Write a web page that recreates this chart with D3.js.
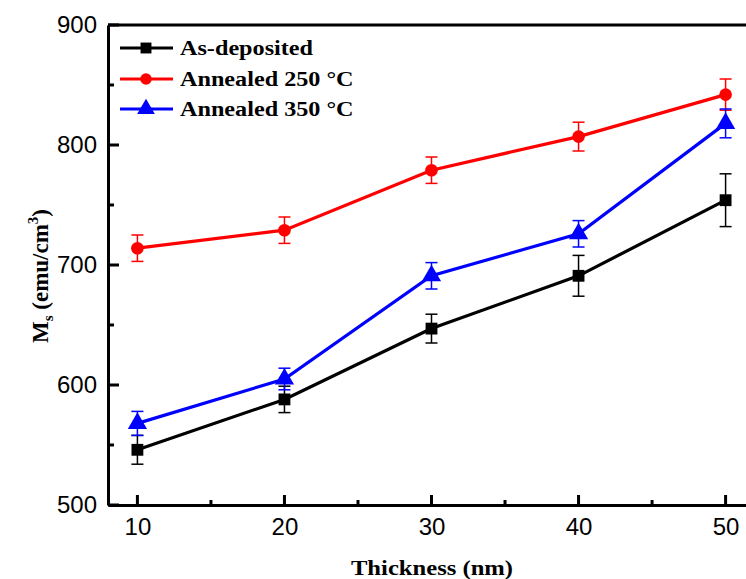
<!DOCTYPE html>
<html><head><meta charset="utf-8">
<script src="https://cdn.jsdelivr.net/npm/d3@7"></script>
<style>body{margin:0;background:#fff}svg{display:block}</style>
</head><body>
<svg id="c" width="746" height="579"></svg>
<script>
const thickness = [10, 20, 30, 40, 50];
const seriesNames = ["As-deposited", "Annealed 250 °C", "Annealed 350 °C"];
const asDeposited = [546, 588, 647, 691, 754];
const asDepositedErr = [12, 11, 12, 17, 22];
const annealed250 = [714, 729, 779, 807, 842];
const annealed250Err = [11, 11, 11, 12, 13];
const annealed350 = [568, 605, 691, 726, 818];
const annealed350Err = [10, 9, 11, 11, 12];
const xTicks = [10, 20, 30, 40, 50];
const yTicks = [500, 600, 700, 800, 900];

const colors = ["#000000", "#ff0000", "#0000ff"];
const markers = [d3.symbolSquare, d3.symbolCircle, d3.symbolTriangle];
const markerSizes = [140, 125, 160];
const serif = "Liberation Serif, Times New Roman, serif";
const sans = "Liberation Sans, Arial, sans-serif";

const svg = d3.select("#c");
const x = d3.scaleLinear().domain([8, 52]).range([108, 755]);
const y = d3.scaleLinear().domain([500, 900]).range([505, 25]);

const series = [
  {name: seriesNames[0], v: asDeposited, e: asDepositedErr},
  {name: seriesNames[1], v: annealed250, e: annealed250Err},
  {name: seriesNames[2], v: annealed350, e: annealed350Err}
];

// frame top
svg.append("line").attr("x1", 108).attr("x2", 755).attr("y1", 25).attr("y2", 25)
  .attr("stroke", "#000").attr("stroke-width", 3);

// axes
const xAxis = d3.axisBottom(x).tickValues(xTicks).tickSize(0).tickPadding(13).tickFormat(d3.format("d"));
const gx = svg.append("g").attr("transform", "translate(0,505)").call(xAxis);
gx.select(".domain").attr("stroke-width", 3);
gx.selectAll("text").attr("font-family", sans).attr("font-size", 24).attr("fill", "#000");

const yAxis = d3.axisLeft(y).tickValues(yTicks).tickSize(0).tickPadding(11);
const gy = svg.append("g").attr("transform", "translate(108,0)").call(yAxis);
gy.select(".domain").attr("stroke-width", 3);
gy.selectAll("text").attr("font-family", sans).attr("font-size", 24).attr("fill", "#000");

// inward ticks
const xMinor = d3.range(15, 52, 10);
svg.append("g").selectAll("line").data(xTicks).join("line")
  .attr("x1", d => x(d)).attr("x2", d => x(d)).attr("y1", 505).attr("y2", 495)
  .attr("stroke", "#000").attr("stroke-width", 3);
svg.append("g").selectAll("line").data(xMinor).join("line")
  .attr("x1", d => x(d)).attr("x2", d => x(d)).attr("y1", 505).attr("y2", 500)
  .attr("stroke", "#000").attr("stroke-width", 3);
const yMinor = [550, 650, 750, 850];
svg.append("g").selectAll("line").data(yTicks).join("line")
  .attr("x1", 108).attr("x2", 119).attr("y1", d => y(d)).attr("y2", d => y(d))
  .attr("stroke", "#000").attr("stroke-width", 3);
svg.append("g").selectAll("line").data(yMinor).join("line")
  .attr("x1", 108).attr("x2", 114).attr("y1", d => y(d)).attr("y2", d => y(d))
  .attr("stroke", "#000").attr("stroke-width", 3);

// data
const line = d3.line().x(d => x(d[0])).y(d => y(d[1]));
series.forEach((s, i) => {
  const pts = thickness.map((t, j) => [t, s.v[j], s.e[j]]);
  const g = svg.append("g");
  g.selectAll("line.eb").data(pts).join("line").attr("class", "eb")
    .attr("x1", d => x(d[0])).attr("x2", d => x(d[0]))
    .attr("y1", d => y(d[1] - d[2])).attr("y2", d => y(d[1] + d[2]))
    .attr("stroke", colors[i]).attr("stroke-width", 1.5);
  g.selectAll("line.cap1").data(pts).join("line").attr("class", "cap1")
    .attr("x1", d => x(d[0]) - 6).attr("x2", d => x(d[0]) + 6)
    .attr("y1", d => y(d[1] + d[2])).attr("y2", d => y(d[1] + d[2]))
    .attr("stroke", colors[i]).attr("stroke-width", 1.5);
  g.selectAll("line.cap2").data(pts).join("line").attr("class", "cap2")
    .attr("x1", d => x(d[0]) - 6).attr("x2", d => x(d[0]) + 6)
    .attr("y1", d => y(d[1] - d[2])).attr("y2", d => y(d[1] - d[2]))
    .attr("stroke", colors[i]).attr("stroke-width", 1.5);
  g.append("path").datum(pts).attr("d", line).attr("fill", "none")
    .attr("stroke", colors[i]).attr("stroke-width", 3.2);
  g.selectAll("path.m").data(pts).join("path").attr("class", "m")
    .attr("transform", d => `translate(${x(d[0])},${y(d[1])})`)
    .attr("d", d3.symbol().type(markers[i]).size(markerSizes[i]))
    .attr("fill", colors[i]);
});

// legend
const legY = [48, 79, 109];
series.forEach((s, i) => {
  const g = svg.append("g").attr("transform", `translate(0,${legY[i]})`);
  g.append("line").attr("x1", 120).attr("x2", 173).attr("y1", 0).attr("y2", 0)
    .attr("stroke", colors[i]).attr("stroke-width", 3.2);
  g.append("path").attr("transform", "translate(146,0)")
    .attr("d", d3.symbol().type(markers[i]).size(markerSizes[i] * 0.85)).attr("fill", colors[i]);
  g.append("text").attr("transform", "translate(180,7) scale(1.1,1)").text(s.name)
    .attr("font-family", serif).attr("font-weight", "bold")
    .attr("font-size", 22).attr("fill", "#000");
});

// axis titles
svg.append("text").attr("transform", "translate(432,575) scale(1.12,1)").attr("text-anchor", "middle")
  .attr("font-family", serif).attr("font-weight", "bold")
  .attr("font-size", 22).text("Thickness (nm)");

const yt = svg.append("text").attr("transform", "translate(48,276) rotate(-90)").attr("text-anchor", "middle")
  .attr("font-family", serif).attr("font-weight", "bold")
  .attr("font-size", 23);
yt.append("tspan").text("M");
yt.append("tspan").attr("font-size", 15).attr("dy", 5).text("s");
yt.append("tspan").attr("dy", -5).text(" (emu/cm");
yt.append("tspan").attr("font-size", 15).attr("dy", -10).text("3");
yt.append("tspan").attr("dy", 10).text(")");
</script>
</body></html>
